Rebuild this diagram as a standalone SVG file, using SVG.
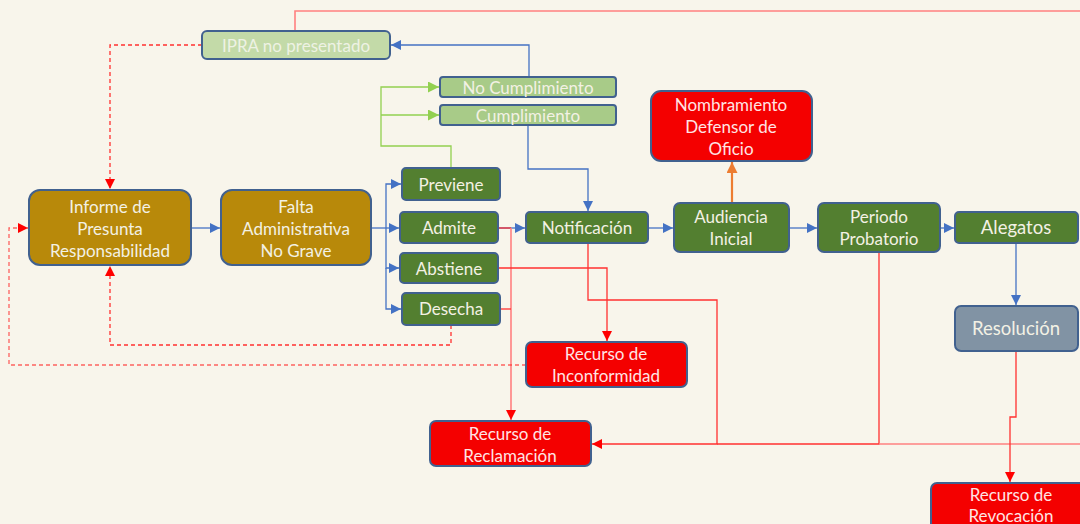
<svg xmlns="http://www.w3.org/2000/svg" width="1080" height="524" viewBox="0 0 1080 524">
<defs>
<style>
.n{stroke:#41618F;stroke-width:2}
.dg{fill:#537F30}
.lg{fill:#A8CB88}
.xg{fill:#C3DAA8}
.gd{fill:#B8890A}
.rd{fill:#F40000}
.gr{fill:#8193A4}
text{font-family:Lato,"Liberation Sans",sans-serif;font-size:17px;text-anchor:middle;dominant-baseline:central}
.tw{fill:#F3F1E4}
.tr{fill:#FFE4E4}
.tp{fill:#EEF2E4}
.big{font-size:18.5px}
.cb{fill:none;stroke:#4472C4;stroke-width:1.3}
.cr{fill:none;stroke:#FF3030;stroke-width:1.3}
.cp{fill:none;stroke:#FF8080;stroke-width:1.6}
.cd{fill:none;stroke:#FF3030;stroke-width:1.3;stroke-dasharray:4 3}
.cg{fill:none;stroke:#92D050;stroke-width:1.3}
.co{fill:none;stroke:#ED7D31;stroke-width:2.2}
</style>
<marker id="ab" viewBox="0 0 10 10" refX="10" refY="5" markerWidth="10" markerHeight="10" markerUnits="userSpaceOnUse" orient="auto"><path d="M0,0L10,5L0,10z" fill="#4472C4"/></marker>
<marker id="ar" viewBox="0 0 10 10" refX="10" refY="5" markerWidth="10" markerHeight="10" markerUnits="userSpaceOnUse" orient="auto"><path d="M0,0L10,5L0,10z" fill="#FF0000"/></marker>
<marker id="ag" viewBox="0 0 10 10" refX="10" refY="5" markerWidth="11" markerHeight="11" markerUnits="userSpaceOnUse" orient="auto"><path d="M0,0L10,5L0,10z" fill="#92D050"/></marker>
<marker id="ao" viewBox="0 0 10 10" refX="10" refY="5" markerWidth="11" markerHeight="11" markerUnits="userSpaceOnUse" orient="auto"><path d="M0,0L10,5L0,10z" fill="#ED7D31"/></marker>
</defs>
<rect width="1080" height="524" fill="#F8F5EB"/>
<g id="connectors">
<path class="cp" d="M295,31V11H1080"/>
<path class="cb" d="M529,77V45H391" marker-end="url(#ab)"/>
<path class="cd" d="M202,45H110V189" marker-end="url(#ar)"/>
<path class="cg" d="M451,168V146H381V87H439" marker-end="url(#ag)"/>
<path class="cg" d="M381,115H439" marker-end="url(#ag)"/>
<path class="cb" d="M528,125V169H588V211" marker-end="url(#ab)"/>
<path class="cb" d="M191,228H220" marker-end="url(#ab)"/>
<path class="cb" d="M371,228H399" marker-end="url(#ab)"/>
<path class="cb" d="M386,228V184H401" marker-end="url(#ab)"/>
<path class="cb" d="M386,228V268H399" marker-end="url(#ab)"/>
<path class="cb" d="M386,268V309H401" marker-end="url(#ab)"/>
<path class="cb" d="M498,228H525" marker-end="url(#ab)"/>
<path class="cr" d="M498,228H511"/>
<path class="cp" d="M511,228V420" marker-end="url(#ar)"/>
<path class="cr" d="M500,309H511"/>
<path class="cr" d="M498,268H607V341" marker-end="url(#ar)"/>
<path class="cr" d="M588,243V300H717V444H592" marker-end="url(#ar)"/>
<path class="cr" d="M879,252V444H717"/>
<path class="cp" d="M879,444H1080"/>
<path class="cr" d="M1016,351V417H1010V482" marker-end="url(#ar)"/>
<path class="cd" d="M451,325V345H110V266" marker-end="url(#ar)"/>
<path class="cd" d="M526,365H9V228H28" marker-end="url(#ar)" stroke-opacity="0.75"/>
<path class="co" d="M732,203V162" marker-end="url(#ao)"/>
<path class="cb" d="M648,228H673" marker-end="url(#ab)"/>
<path class="cb" d="M789,228H817" marker-end="url(#ab)"/>
<path class="cb" d="M940,228H954" marker-end="url(#ab)"/>
<path class="cb" d="M1016,243V305" marker-end="url(#ab)"/>
</g>
<g id="ipra"><rect class="n xg" x="202" y="31" width="188" height="28" rx="5"/><text class="tp" x="296" y="45">IPRA no presentado</text></g>
<g id="nocumplimiento"><rect class="n lg" x="440" y="77" width="176" height="20" rx="3"/><text class="tw" x="528" y="87">No Cumplimiento</text></g>
<g id="cumplimiento"><rect class="n lg" x="440" y="105" width="176" height="20" rx="3"/><text class="tw" x="528" y="115">Cumplimiento</text></g>
<g id="nombramiento"><rect class="n rd" x="651" y="91" width="161" height="70" rx="10"/><text class="tr" x="731" y="104">Nombramiento</text><text class="tr" x="731" y="126">Defensor de</text><text class="tr" x="731" y="148">Oficio</text></g>
<g id="informe"><rect class="n gd" x="29" y="190" width="162" height="75" rx="11"/><text class="tw" x="110" y="206">Informe de</text><text class="tw" x="110" y="228">Presunta</text><text class="tw" x="110" y="250">Responsabilidad</text></g>
<g id="falta"><rect class="n gd" x="221" y="190" width="150" height="75" rx="11"/><text class="tw" x="296" y="206">Falta</text><text class="tw" x="296" y="228">Administrativa</text><text class="tw" x="296" y="250">No Grave</text></g>
<g id="previene"><rect class="n dg" x="402" y="168" width="98" height="32" rx="4"/><text class="tw" x="451" y="184">Previene</text></g>
<g id="admite"><rect class="n dg" x="400" y="212" width="98" height="31" rx="4"/><text class="tw" x="449" y="227">Admite</text></g>
<g id="abstiene"><rect class="n dg" x="400" y="253" width="98" height="30" rx="4"/><text class="tw" x="449" y="268">Abstiene</text></g>
<g id="desecha"><rect class="n dg" x="402" y="293" width="98" height="32" rx="4"/><text class="tw" x="451" y="308">Desecha</text></g>
<g id="notificacion"><rect class="n dg" x="526" y="212" width="122" height="31" rx="4"/><text class="tw" x="587" y="227">Notificación</text></g>
<g id="audiencia"><rect class="n dg" x="674" y="203" width="115" height="49" rx="6"/><text class="tw" x="731" y="216">Audiencia</text><text class="tw" x="731" y="238">Inicial</text></g>
<g id="periodo"><rect class="n dg" x="818" y="203" width="122" height="49" rx="6"/><text class="tw" x="879" y="216">Periodo</text><text class="tw" x="879" y="238">Probatorio</text></g>
<g id="alegatos"><rect class="n dg" x="955" y="212" width="123" height="31" rx="4"/><text class="tw big" x="1016" y="227">Alegatos</text></g>
<g id="resolucion"><rect class="n gr" x="955" y="306" width="123" height="45" rx="6"/><text class="tw big" x="1016" y="328">Resolución</text></g>
<g id="inconformidad"><rect class="n rd" x="526" y="342" width="161" height="45" rx="6"/><text class="tr" x="606" y="353">Recurso de</text><text class="tr" x="606" y="375">Inconformidad</text></g>
<g id="reclamacion"><rect class="n rd" x="430" y="421" width="161" height="45" rx="6"/><text class="tr" x="510" y="433">Recurso de</text><text class="tr" x="510" y="455">Reclamación</text></g>
<g id="revocacion"><rect class="n rd" x="931" y="483" width="161" height="50" rx="6"/><text class="tr" x="1011" y="494">Recurso de</text><text class="tr" x="1011" y="515">Revocación</text></g>
</svg>
